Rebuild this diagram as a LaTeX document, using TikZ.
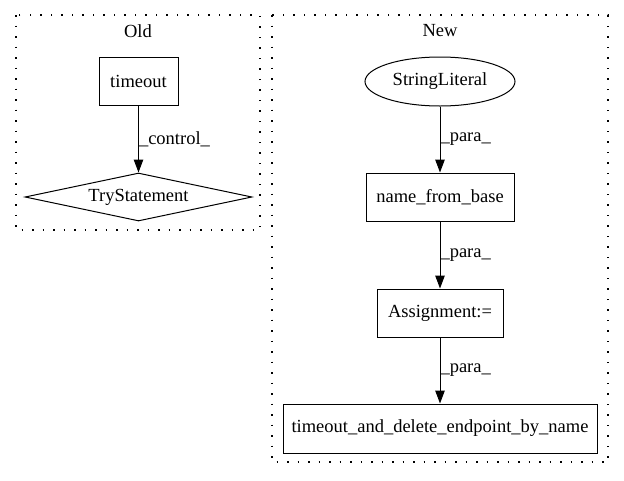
\documentclass[tikz,border=0pt]{standalone}
\usepackage{fontspec}
\setmainfont{Liberation Serif}
\usetikzlibrary{arrows.meta,shapes.geometric,positioning}
\begin{document}
\begin{tikzpicture}[x=1pt,y=-1pt,line width=1pt,font=\fontsize{18.5}{21}\selectfont,
	box/.style={draw,rectangle,minimum height=48pt,inner sep=2pt},
	cluster/.style={draw,line width=1.2pt,dash pattern=on 1.5pt off 9pt},
	flow/.style={-{Triangle[length=13pt,width=9.5pt]}},
	lbl/.style={right,inner sep=0pt}]
	\useasboundingbox (0,0) rectangle (624,480);
	% Old
	\draw[cluster] (16,15) rectangle (260,230);
	\node (oldT) at (138,31) {Old};
	\node (timeout) at (138.5,81) [box,minimum width=79pt] {timeout};
	\node (try) at (138.5,197) [draw,diamond,aspect=4.7,inner sep=0pt,minimum width=227pt,minimum height=48pt] {TryStatement};
	\draw[flow] (timeout) -- node[lbl] {\_control\_} (try);
	% New
	\draw[cluster] (272,15) rectangle (608,462);
	\node (newT) at (440,31) {New};
	\node (lit) at (440,81.5) [draw,ellipse,minimum width=150pt,minimum height=49pt,inner sep=0pt] {StringLiteral};
	\node (base) at (440,197) [box,minimum width=148pt] {name\_from\_base};
	\node (assign) at (440,313) [box,minimum width=126pt] {Assignment:=};
	\node (tade) at (440,428.5) [box,minimum width=314pt,minimum height=49pt] {timeout\_and\_delete\_endpoint\_by\_name};
	\draw[flow] (lit) -- node[lbl] {\_para\_} (base);
	\draw[flow] (base) -- node[lbl] {\_para\_} (assign);
	\draw[flow] (assign) -- node[lbl] {\_para\_} (tade);
\end{tikzpicture}
\end{document}
